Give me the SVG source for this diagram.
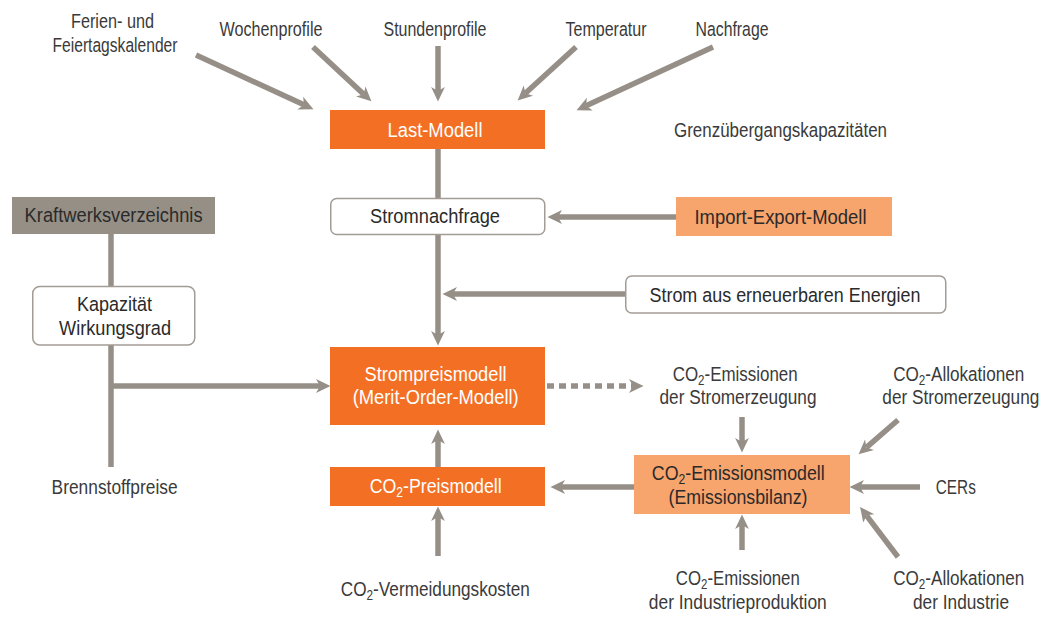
<svg xmlns="http://www.w3.org/2000/svg" width="1042" height="638" viewBox="0 0 1042 638">
<style>
text{font-family:"Liberation Sans",Arial,sans-serif;font-size:20.5px;fill:#3a3a3a;text-anchor:middle}
.w{fill:#ffffff}
.d{fill:#2a2a2a}
.end{text-anchor:end}
.sub{font-size:14px}
.dark{fill:#F36F24}
.light{fill:#F7A46D}
.grey{fill:#968F86}
.white{fill:#ffffff;stroke:#A29C95;stroke-width:1.5}
.ln{stroke:#968F87;stroke-width:5.5;fill:none}
.ar{marker-end:url(#ah)}
.dash{stroke-dasharray:7 5}
</style>
<defs>
<marker id="ah" markerUnits="userSpaceOnUse" viewBox="0 -8 16 16" markerWidth="16" markerHeight="16" refX="4" refY="0" orient="auto">
<path d="M0,-6.9 L14.5,0 L0,6.9 L4,0 z" fill="#968F87"/>
</marker>
</defs>
<rect width="1042" height="638" fill="#ffffff"/>
<g id="connectors">
<line class="ln ar" x1="196" y1="55" x2="303.9" y2="104.8"/>
<line class="ln ar" x1="313" y1="47" x2="363.7" y2="94.2"/>
<line class="ln ar" x1="438" y1="46" x2="438" y2="91"/>
<line class="ln ar" x1="576" y1="47" x2="525.4" y2="93.3"/>
<line class="ln ar" x1="713" y1="47" x2="586.1" y2="105.8"/>
<line class="ln" x1="438" y1="149" x2="438" y2="198"/>
<line class="ln ar" x1="676" y1="217" x2="558" y2="217"/>
<line class="ln ar" x1="438" y1="234" x2="438" y2="335"/>
<line class="ln ar" x1="625" y1="294" x2="453" y2="294"/>
<line class="ln" x1="111" y1="234" x2="111" y2="286"/>
<line class="ln" x1="111" y1="345" x2="111" y2="467"/>
<line class="ln ar" x1="111" y1="386" x2="320" y2="386"/>
<line class="ln ar" x1="438" y1="467" x2="438" y2="440"/>
<line class="ln ar" x1="438" y1="556" x2="438" y2="517"/>
<line class="ln ar dash" x1="547" y1="386" x2="633" y2="386"/>
<line class="ln ar" x1="742" y1="417" x2="742" y2="442"/>
<line class="ln ar" x1="634" y1="487" x2="561" y2="487"/>
<line class="ln ar" x1="920" y1="487" x2="860" y2="487"/>
<line class="ln ar" x1="898" y1="420" x2="866.5" y2="447.4"/>
<line class="ln ar" x1="898" y1="557" x2="866.4" y2="515.3"/>
<line class="ln ar" x1="742" y1="550" x2="742" y2="525"/>
</g>
<g id="ferien">
<text x="112.5" y="28" textLength="83" lengthAdjust="spacingAndGlyphs">Ferien- und</text>
<text x="115" y="52" textLength="125" lengthAdjust="spacingAndGlyphs">Feiertagskalender</text>
</g>
<g id="wochenprofile"><text x="271" y="36" textLength="103" lengthAdjust="spacingAndGlyphs">Wochenprofile</text></g>
<g id="stundenprofile"><text x="435" y="36" textLength="103" lengthAdjust="spacingAndGlyphs">Stundenprofile</text></g>
<g id="temperatur"><text x="606" y="36" textLength="81" lengthAdjust="spacingAndGlyphs">Temperatur</text></g>
<g id="nachfrage"><text x="732" y="36" textLength="73" lengthAdjust="spacingAndGlyphs">Nachfrage</text></g>
<g id="last-modell">
<rect class="dark" x="330" y="110" width="215" height="39"/>
<text class="w" x="435" y="137" textLength="95" lengthAdjust="spacingAndGlyphs">Last-Modell</text>
</g>
<g id="grenz"><text x="780.5" y="137" textLength="213" lengthAdjust="spacingAndGlyphs">Grenzübergangskapazitäten</text></g>
<g id="kraftwerk">
<rect class="grey" x="12" y="197" width="203" height="37"/>
<text class="d" x="113.6" y="222" textLength="178" lengthAdjust="spacingAndGlyphs">Kraftwerksverzeichnis</text>
</g>
<g id="stromnachfrage">
<rect class="white" x="330.75" y="198.5" width="214" height="36" rx="6"/>
<text class="d" x="435" y="223" textLength="130" lengthAdjust="spacingAndGlyphs">Stromnachfrage</text>
</g>
<g id="import-export">
<rect class="light" x="676" y="197" width="216" height="39"/>
<text class="d" x="780.5" y="224" textLength="172" lengthAdjust="spacingAndGlyphs">Import-Export-Modell</text>
</g>
<g id="erneuerbar">
<rect class="white" x="625.75" y="276" width="320" height="37" rx="6"/>
<text class="d" x="785" y="301.5" textLength="271" lengthAdjust="spacingAndGlyphs">Strom aus erneuerbaren Energien</text>
</g>
<g id="kapazitaet">
<rect class="white" x="32.75" y="286.5" width="162" height="58.5" rx="7"/>
<text class="d" x="114.5" y="311" textLength="75" lengthAdjust="spacingAndGlyphs">Kapazität</text>
<text class="d" x="115" y="334.5" textLength="112" lengthAdjust="spacingAndGlyphs">Wirkungsgrad</text>
</g>
<g id="strompreismodell">
<rect class="dark" x="330" y="347" width="215" height="78"/>
<text class="w" x="435.5" y="381" textLength="142" lengthAdjust="spacingAndGlyphs">Strompreismodell</text>
<text class="w" x="435.7" y="404" textLength="166" lengthAdjust="spacingAndGlyphs">(Merit-Order-Modell)</text>
</g>
<g id="brennstoff"><text x="114.6" y="493.5" textLength="126" lengthAdjust="spacingAndGlyphs">Brennstoffpreise</text></g>
<g id="co2-preismodell">
<rect class="dark" x="330" y="467" width="215" height="39"/>
<text class="w" x="435.7" y="493" textLength="132" lengthAdjust="spacingAndGlyphs">CO<tspan class="sub" dy="3.5">2</tspan><tspan dy="-3.5">-Preismodell</tspan></text>
</g>
<g id="vermeidung"><text x="435.3" y="596" textLength="189" lengthAdjust="spacingAndGlyphs">CO<tspan class="sub" dy="3.5">2</tspan><tspan dy="-3.5">-Vermeidungskosten</tspan></text></g>
<g id="em-strom">
<text x="735.2" y="381" textLength="125" lengthAdjust="spacingAndGlyphs">CO<tspan class="sub" dy="3.5">2</tspan><tspan dy="-3.5">-Emissionen</tspan></text>
<text x="738" y="404" textLength="157" lengthAdjust="spacingAndGlyphs">der Stromerzeugung</text>
</g>
<g id="alloc-strom">
<text x="958.7" y="381" textLength="131" lengthAdjust="spacingAndGlyphs">CO<tspan class="sub" dy="3.5">2</tspan><tspan dy="-3.5">-Allokationen</tspan></text>
<text class="end" x="1039.3" y="404" textLength="157" lengthAdjust="spacingAndGlyphs">der Stromerzeugung</text>
</g>
<g id="emissionsmodell">
<rect class="light" x="634" y="455" width="216" height="59"/>
<text class="d" x="738.3" y="480" textLength="173" lengthAdjust="spacingAndGlyphs">CO<tspan class="sub" dy="3.5">2</tspan><tspan dy="-3.5">-Emissionsmodell</tspan></text>
<text class="d" x="738" y="503.5" textLength="139" lengthAdjust="spacingAndGlyphs">(Emissionsbilanz)</text>
</g>
<g id="cers"><text x="955.8" y="494" textLength="40" lengthAdjust="spacingAndGlyphs">CERs</text></g>
<g id="em-industrie">
<text x="737.8" y="585" textLength="124" lengthAdjust="spacingAndGlyphs">CO<tspan class="sub" dy="3.5">2</tspan><tspan dy="-3.5">-Emissionen</tspan></text>
<text x="737.8" y="608.5" textLength="178" lengthAdjust="spacingAndGlyphs">der Industrieproduktion</text>
</g>
<g id="alloc-industrie">
<text x="958.7" y="585" textLength="131" lengthAdjust="spacingAndGlyphs">CO<tspan class="sub" dy="3.5">2</tspan><tspan dy="-3.5">-Allokationen</tspan></text>
<text x="961" y="608.5" textLength="96" lengthAdjust="spacingAndGlyphs">der Industrie</text>
</g>
</svg>
